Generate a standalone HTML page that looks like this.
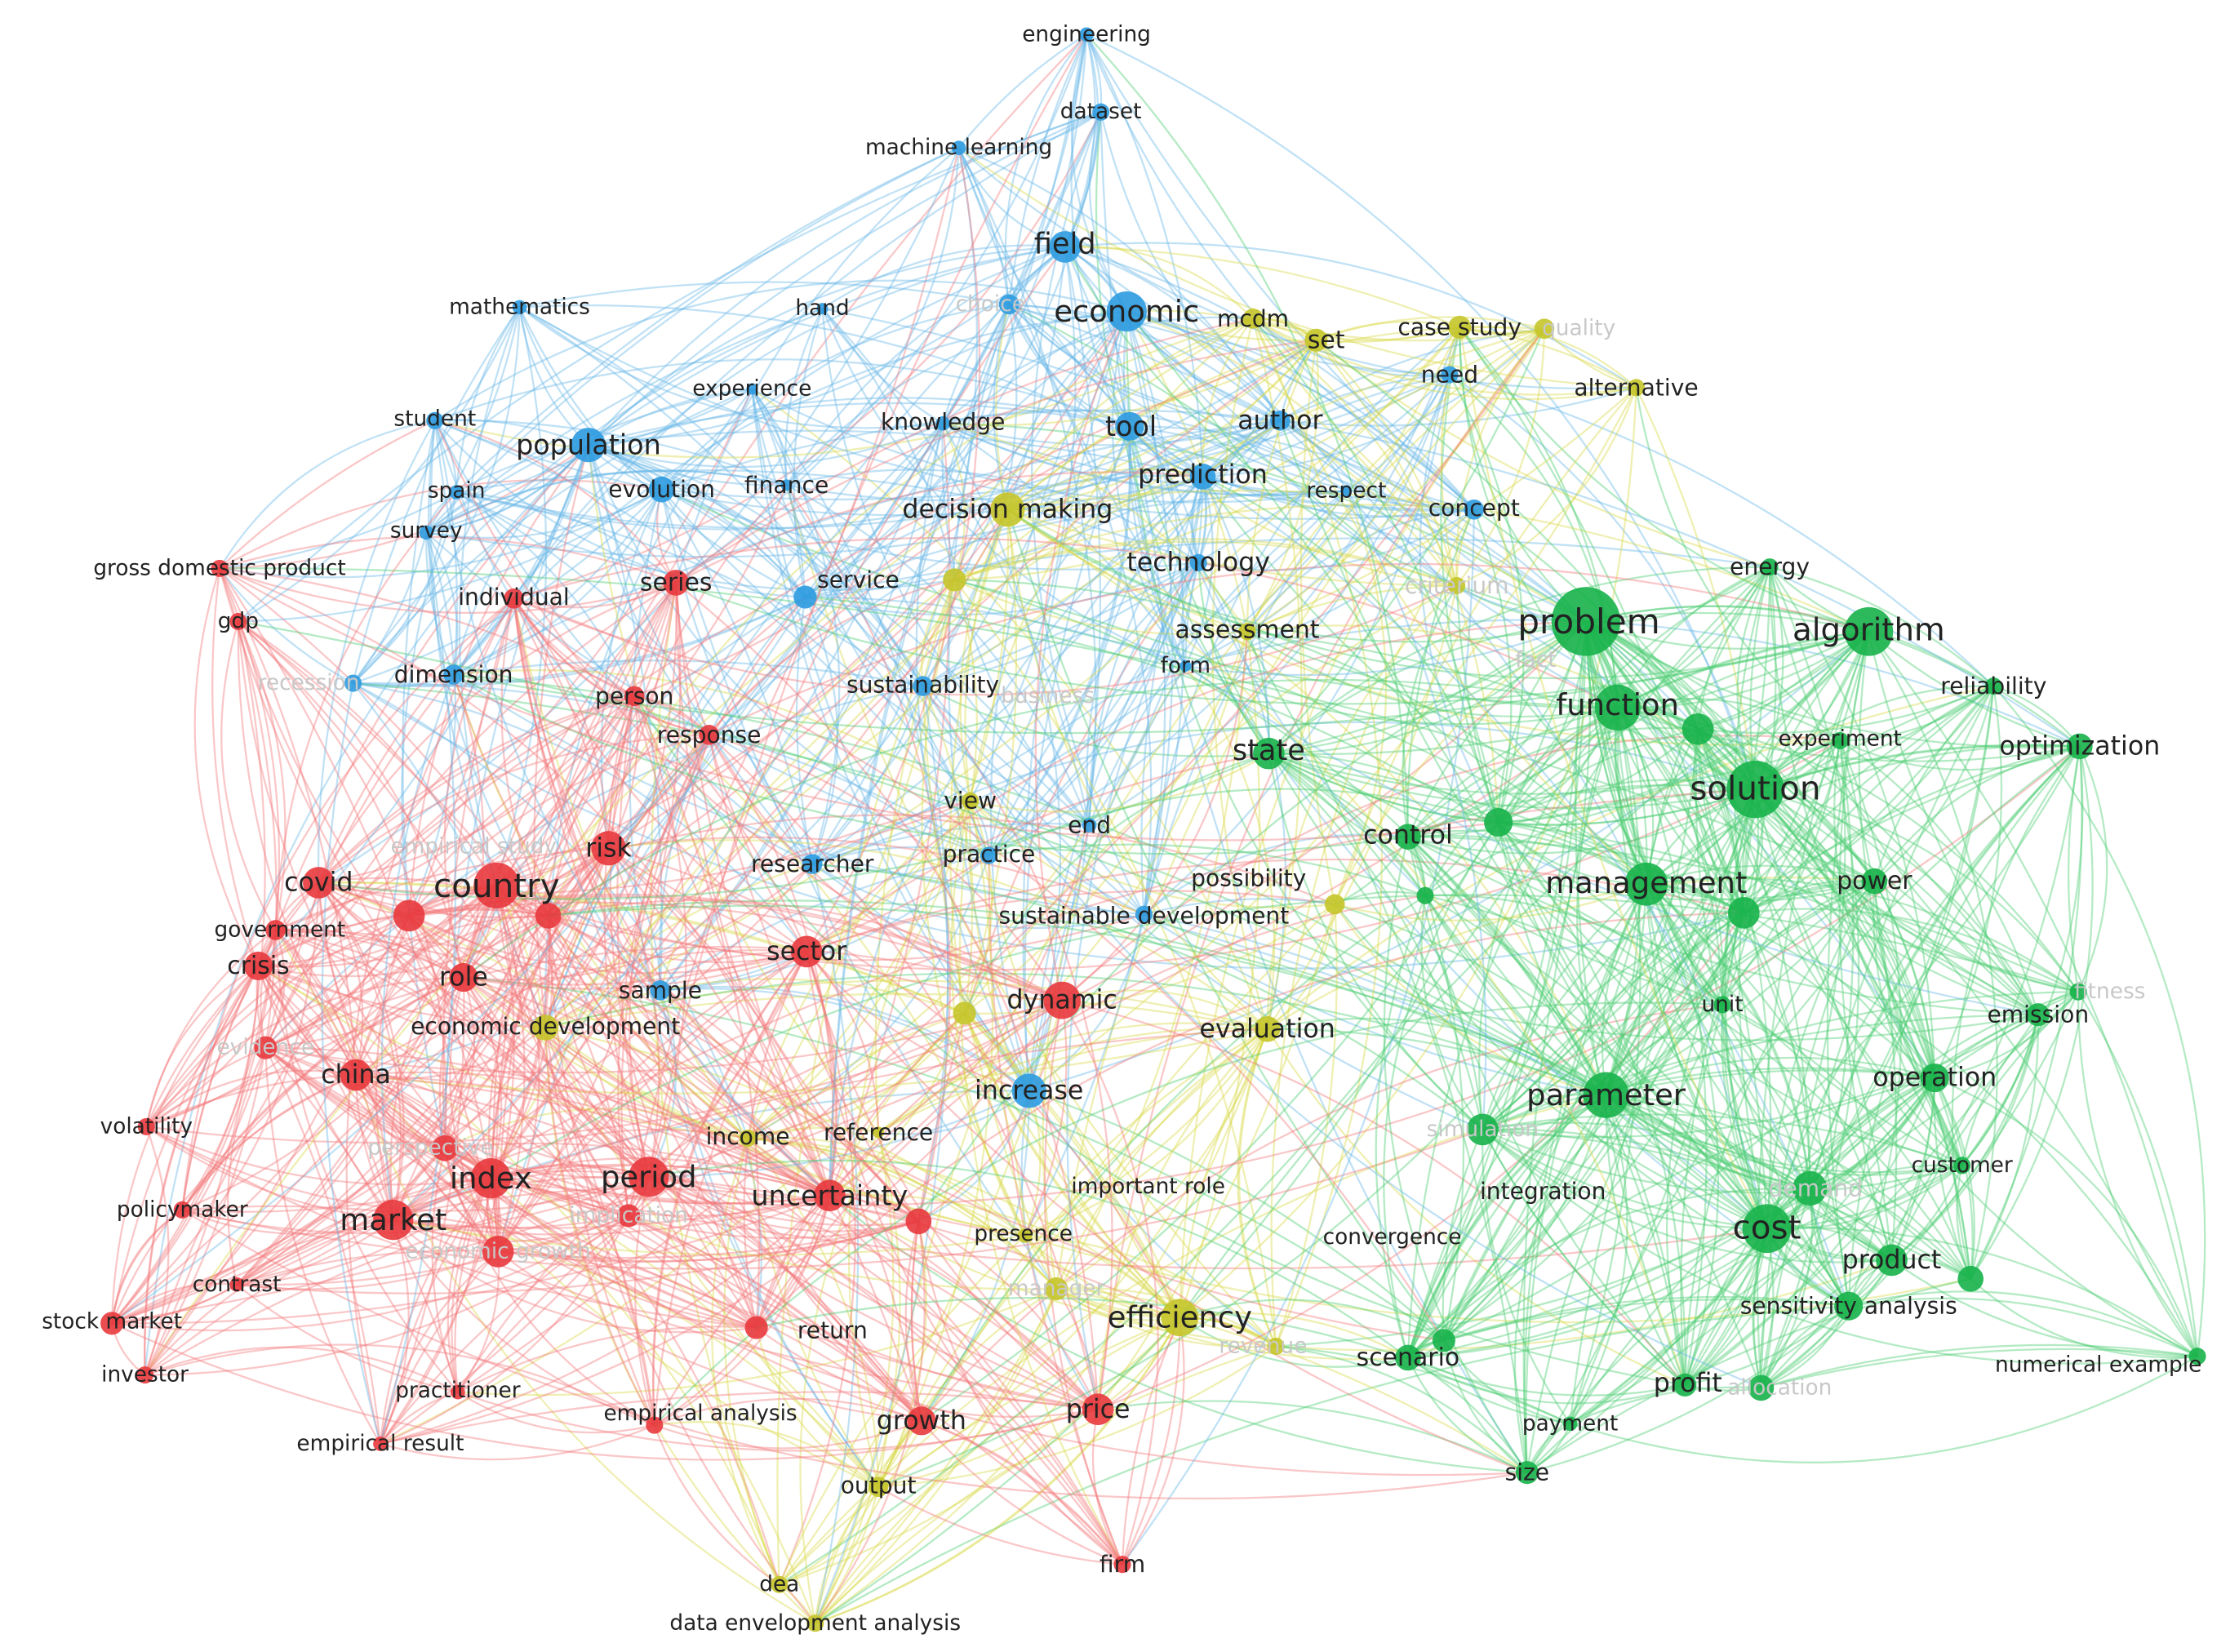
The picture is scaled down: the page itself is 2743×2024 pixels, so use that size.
<!DOCTYPE html>
<html><head><meta charset="utf-8"><style>
html,body{margin:0;padding:0;background:#fff;}
svg{display:block;}
text{font-family:"DejaVu Sans","Liberation Sans",sans-serif;text-anchor:middle;dominant-baseline:central;fill:#222;}
.f{fill:#c8c8c8;}
</style></head><body>
<svg id="s" width="2743" height="2024" viewBox="0 0 1560 1151" xmlns="http://www.w3.org/2000/svg">
<rect width="1560" height="1151" fill="#fff"/>
<g id="edges" fill="none" stroke-linecap="round"></g>
<g id="nodes"></g>
<g id="labels">
<text x="757" y="24" font-size="15">engineering</text>
<text x="767" y="78" font-size="15">dataset</text>
<text x="668" y="103" font-size="15">machine learning</text>
<text x="742" y="170" font-size="20">field</text>
<text x="785" y="217" font-size="21">economic</text>
<text x="362" y="214" font-size="15">mathematics</text>
<text x="573" y="215" font-size="15">hand</text>
<text x="690" y="212" font-size="15" class="f">choice</text>
<text x="524" y="271" font-size="15">experience</text>
<text x="303" y="292" font-size="15">student</text>
<text x="410" y="310" font-size="19">population</text>
<text x="657" y="294" font-size="16">knowledge</text>
<text x="788" y="297" font-size="19">tool</text>
<text x="892" y="293" font-size="18">author</text>
<text x="838" y="331" font-size="18">prediction</text>
<text x="318" y="342" font-size="15">spain</text>
<text x="461" y="341" font-size="16">evolution</text>
<text x="548" y="338" font-size="16">finance</text>
<text x="297" y="370" font-size="15">survey</text>
<text x="938" y="342" font-size="15">respect</text>
<text x="1027" y="354" font-size="16">concept</text>
<text x="835" y="392" font-size="18">technology</text>
<text x="598" y="404" font-size="16">service</text>
<text x="316" y="470" font-size="16">dimension</text>
<text x="215" y="476" font-size="15" class="f">recession</text>
<text x="826" y="464" font-size="15">form</text>
<text x="643" y="477" font-size="16">sustainability</text>
<text x="730" y="485" font-size="15" class="f">business</text>
<text x="566" y="602" font-size="16">researcher</text>
<text x="689" y="595" font-size="16">practice</text>
<text x="759" y="575" font-size="16">end</text>
<text x="797" y="638" font-size="16">sustainable development</text>
<text x="460" y="690" font-size="16">sample</text>
<text x="717" y="760" font-size="18">increase</text>
<text x="1010" y="261" font-size="16">need</text>
<text x="873" y="222" font-size="16">mcdm</text>
<text x="924" y="237" font-size="17">set</text>
<text x="1017" y="228" font-size="16">case study</text>
<text x="1100" y="229" font-size="15" class="f">quality</text>
<text x="1140" y="270" font-size="16">alternative</text>
<text x="702" y="355" font-size="18">decision making</text>
<text x="1015" y="408" font-size="16" class="f">criterium</text>
<text x="869" y="439" font-size="17">assessment</text>
<text x="676" y="558" font-size="16">view</text>
<text x="870" y="612" font-size="16">possibility</text>
<text x="380" y="715" font-size="16">economic development</text>
<text x="883" y="717" font-size="18">evaluation</text>
<text x="521" y="792" font-size="16">income</text>
<text x="612" y="789" font-size="16">reference</text>
<text x="736" y="898" font-size="15" class="f">manager</text>
<text x="822" y="918" font-size="21">efficiency</text>
<text x="880" y="938" font-size="15" class="f">revenue</text>
<text x="612" y="1035" font-size="16">output</text>
<text x="543" y="1104" font-size="15">dea</text>
<text x="568" y="1131" font-size="15">data envelopment analysis</text>
<text x="153" y="396" font-size="15">gross domestic product</text>
<text x="166" y="433" font-size="15">gdp</text>
<text x="358" y="416" font-size="16">individual</text>
<text x="471" y="406" font-size="17">series</text>
<text x="442" y="485" font-size="16">person</text>
<text x="494" y="512" font-size="16">response</text>
<text x="424" y="591" font-size="18">risk</text>
<text x="222" y="615" font-size="18">covid</text>
<text x="346" y="617" font-size="23">country</text>
<text x="330" y="590" font-size="15" class="f">empirical study</text>
<text x="195" y="648" font-size="15">government</text>
<text x="180" y="673" font-size="17">crisis</text>
<text x="323" y="681" font-size="18">role</text>
<text x="562" y="663" font-size="18">sector</text>
<text x="740" y="697" font-size="18">dynamic</text>
<text x="185" y="730" font-size="15" class="f">evidence</text>
<text x="248" y="749" font-size="18">china</text>
<text x="102" y="785" font-size="15">volatility</text>
<text x="300" y="800" font-size="15" class="f">perspective</text>
<text x="342" y="821" font-size="21">index</text>
<text x="452" y="820" font-size="21">period</text>
<text x="438" y="847" font-size="15" class="f">implication</text>
<text x="578" y="833" font-size="19">uncertainty</text>
<text x="274" y="850" font-size="21">market</text>
<text x="127" y="843" font-size="15">policymaker</text>
<text x="347" y="872" font-size="15" class="f">economic growth</text>
<text x="165" y="895" font-size="15">contrast</text>
<text x="78" y="921" font-size="15">stock market</text>
<text x="580" y="927" font-size="16">return</text>
<text x="101" y="958" font-size="15">investor</text>
<text x="319" y="969" font-size="15">practitioner</text>
<text x="488" y="985" font-size="15">empirical analysis</text>
<text x="642" y="990" font-size="18">growth</text>
<text x="765" y="982" font-size="18">price</text>
<text x="713" y="860" font-size="15">presence</text>
<text x="265" y="1006" font-size="15">empirical result</text>
<text x="782" y="1090" font-size="16">firm</text>
<text x="800" y="827" font-size="15">important role</text>
<text x="1233" y="395" font-size="16">energy</text>
<text x="1107" y="433" font-size="24">problem</text>
<text x="1302" y="439" font-size="22">algorithm</text>
<text x="1070" y="460" font-size="15" class="f">fact</text>
<text x="1127" y="491" font-size="21">function</text>
<text x="1389" y="478" font-size="16">reliability</text>
<text x="1282" y="515" font-size="15">experiment</text>
<text x="1449" y="520" font-size="18">optimization</text>
<text x="884" y="523" font-size="20">state</text>
<text x="1223" y="549" font-size="23">solution</text>
<text x="981" y="582" font-size="18">control</text>
<text x="1147" y="615" font-size="21">management</text>
<text x="1306" y="614" font-size="17">power</text>
<text x="1200" y="700" font-size="15">unit</text>
<text x="1470" y="691" font-size="15" class="f">fitness</text>
<text x="1420" y="707" font-size="16">emission</text>
<text x="1119" y="763" font-size="21">parameter</text>
<text x="1348" y="751" font-size="18">operation</text>
<text x="1033" y="787" font-size="15" class="f">simulation</text>
<text x="1367" y="812" font-size="15">customer</text>
<text x="1075" y="830" font-size="16">integration</text>
<text x="1265" y="828" font-size="16" class="f">demand</text>
<text x="1231" y="855" font-size="23">cost</text>
<text x="970" y="862" font-size="15">convergence</text>
<text x="1318" y="878" font-size="18">product</text>
<text x="1288" y="910" font-size="16">sensitivity analysis</text>
<text x="981" y="946" font-size="17">scenario</text>
<text x="1462" y="951" font-size="15">numerical example</text>
<text x="1176" y="964" font-size="18">profit</text>
<text x="1240" y="967" font-size="15" class="f">allocation</text>
<text x="1094" y="992" font-size="15">payment</text>
<text x="1064" y="1026" font-size="16">size</text>
</g>
</svg>
<script>
var N=[
[757,24,5,'b'],[767,78,6,'b'],[668,103,5,'b'],[742,172,11,'b'],[785,217,14,'b'],[362,214,5,'b'],[573,215,4,'b'],[703,212,7,'b'],[524,271,4,'b'],[303,293,6,'b'],[410,310,12,'b'],[657,295,5,'b'],[787,297,10,'b'],[892,293,7,'b'],[838,332,9,'b'],[318,343,5,'b'],[461,341,9,'b'],[548,338,4,'b'],[297,371,5,'b'],[938,342,4,'b'],[1027,355,7,'b'],[835,392,6,'b'],[561,416,8,'b'],[316,470,7,'b'],[246,476,6,'b'],[826,464,4,'b'],[643,478,7,'b'],[566,602,7,'b'],[689,596,6,'b'],[759,575,5,'b'],[797,637,6,'b'],[460,690,7,'b'],[717,760,12,'b'],[1010,261,6,'b'],
[873,222,7,'y'],[917,237,8,'y'],[1017,228,8,'y'],[1076,229,7,'y'],[1140,270,6,'y'],[702,355,12,'y'],[665,404,8,'y'],[1015,408,6,'y'],[869,440,6,'y'],[676,558,6,'y'],[930,630,7,'y'],[380,716,9,'y'],[672,706,8,'y'],[883,717,9,'y'],[521,793,6,'y'],[612,789,4,'y'],[736,898,8,'y'],[822,918,13,'y'],[889,938,6,'y'],[612,1036,7,'y'],[543,1104,6,'y'],[568,1131,6,'y'],[714,861,5,'y'],
[153,396,6,'r'],[166,433,6,'r'],[358,417,7,'r'],[471,406,9,'r'],[442,485,7,'r'],[494,512,7,'r'],[424,591,12,'r'],[222,615,11,'r'],[346,617,16,'r'],[285,638,11,'r'],[382,638,9,'r'],[192,648,7,'r'],[180,673,10,'r'],[323,681,10,'r'],[562,663,11,'r'],[740,697,13,'r'],[185,730,8,'r'],[248,749,11,'r'],[102,785,6,'r'],[310,800,9,'r'],[342,821,14,'r'],[452,820,14,'r'],[438,847,8,'r'],[578,833,11,'r'],[640,851,9,'r'],[274,850,14,'r'],[127,843,6,'r'],[347,872,11,'r'],[165,895,5,'r'],[78,922,8,'r'],[527,925,8,'r'],[101,958,6,'r'],[319,970,5,'r'],[456,993,6,'r'],[642,990,10,'r'],[765,982,11,'r'],[265,1006,5,'r'],[782,1090,6,'r'],
[1233,395,6,'g'],[1105,433,24,'g'],[1302,440,17,'g'],[1127,493,16,'g'],[1389,478,6,'g'],[1183,508,11,'g'],[1282,516,6,'g'],[1449,520,9,'g'],[884,525,11,'g'],[1223,550,20,'g'],[981,583,9,'g'],[1044,573,10,'g'],[1147,616,15,'g'],[993,624,6,'g'],[1306,614,9,'g'],[1215,636,11,'g'],[1200,700,6,'g'],[1448,691,6,'g'],[1420,707,8,'g'],[1119,763,16,'g'],[1348,751,10,'g'],[1033,787,11,'g'],[1367,812,6,'g'],[1261,828,12,'g'],[1231,856,17,'g'],[1318,878,11,'g'],[1373,891,9,'g'],[1288,910,10,'g'],[981,946,9,'g'],[1006,934,8,'g'],[1531,945,6,'g'],[1174,965,8,'g'],[1227,967,9,'g'],[1094,992,5,'g'],[1064,1026,8,'g']];
var EC={r:'#f27a7d',b:'#6ab8e6',g:'#4ccc72',y:'#d8d84a'},NC={r:'#e8383d',b:'#2d9be0',g:'#17b24a',y:'#c5c52a'};
var seed=11;function R(){seed=(seed*16807)%2147483647;return seed/2147483647;}
var ns='http://www.w3.org/2000/svg',E=document.getElementById('edges'),G=document.getElementById('nodes');
for(var i=0;i<N.length;i++){var a=N[i],k=Math.round(4+a[2]*1.1);
 var w=[],tot=0;for(var j=0;j<N.length;j++){if(j==i){w.push(0);continue;}var b=N[j],d=Math.hypot(a[0]-b[0],a[1]-b[1]);var v=(a[3]==b[3]?4:1)*(b[2]+3)*Math.exp(-d/320);w.push(v);tot+=v;}
 for(var m=0;m<k;m++){var r=R()*tot,j=0;while(j<N.length-1&&r>w[j]){r-=w[j];j++;}var b=N[j];
  var dx=b[0]-a[0],dy=b[1]-a[1],s=(R()<0.5?-1:1)*(0.08+R()*0.15);var cx=(a[0]+b[0])/2-dy*s,cy=(a[1]+b[1])/2+dx*s;
  var p=document.createElementNS(ns,'path');p.setAttribute('d','M'+a[0]+' '+a[1]+'Q'+cx.toFixed(1)+' '+cy.toFixed(1)+' '+b[0]+' '+b[1]);
  p.setAttribute('stroke',EC[R()<0.5?a[3]:b[3]]);p.setAttribute('stroke-width','1.3');p.setAttribute('stroke-opacity','0.42');E.appendChild(p);}
}
N.forEach(function(a){var c=document.createElementNS(ns,'circle');c.setAttribute('cx',a[0]);c.setAttribute('cy',a[1]);c.setAttribute('r',a[2]);c.setAttribute('fill',NC[a[3]]);c.setAttribute('fill-opacity','0.9');G.appendChild(c);});
</script>
</body></html>
